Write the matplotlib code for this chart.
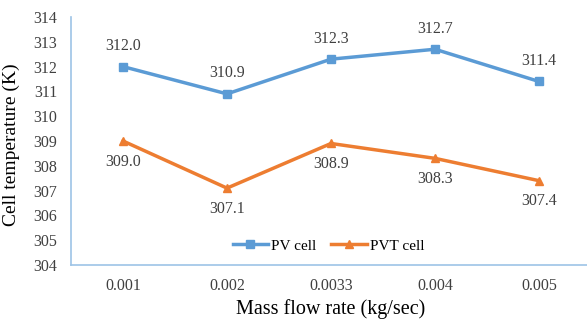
import matplotlib
matplotlib.use("Agg")
import matplotlib.pyplot as plt

categories = ["0.001", "0.002", "0.0033", "0.004", "0.005"]
pv_cell = [312.0, 310.9, 312.3, 312.7, 311.4]
pvt_cell = [309.0, 307.1, 308.9, 308.3, 307.4]
y_ticks = list(range(304, 315))

plt.rcParams['font.family'] = ['Liberation Serif', 'DejaVu Serif']

blue = '#5B9BD5'
orange = '#ED7D31'
spine_c = '#9DC3E6'
txt_c = '#404040'

fig = plt.figure(figsize=(5.87, 3.2), dpi=100)
ax = fig.add_axes([71/587, 1-265/320, 520/587, (265-17)/320])

x = list(range(len(categories)))
ax.plot(x, pv_cell, color=blue, lw=2.5, marker='s', ms=6, label='PV cell')
ax.plot(x, pvt_cell, color=orange, lw=2.5, marker='^', ms=6, label='PVT cell')

for xi, v in zip(x, pv_cell):
    ax.annotate(f"{v:.1f}", (xi, v), xytext=(0, 9), textcoords='offset points',
                ha='center', va='bottom', fontsize=11.5, color=txt_c)
for xi, v in zip(x, pvt_cell):
    ax.annotate(f"{v:.1f}", (xi, v), xytext=(0, -9), textcoords='offset points',
                ha='center', va='top', fontsize=11.5, color=txt_c)

ax.set_xlim(-0.5, 4.5)
ax.set_ylim(304, 314)
ax.set_xticks(x)
ax.set_xticklabels(categories)
ax.set_yticks(y_ticks)
ax.tick_params(axis='both', length=0, labelsize=11.5, colors=txt_c)
ax.tick_params(axis='y', pad=10)
ax.tick_params(axis='x', pad=9)

for s in ['top', 'right']:
    ax.spines[s].set_visible(False)
ax.spines['left'].set_color(spine_c)
ax.spines['bottom'].set_color(spine_c)
ax.spines['left'].set_linewidth(1.2)
ax.spines['bottom'].set_linewidth(1.2)

ax.set_ylabel("Cell temperature (K)", fontsize=14)
ax.yaxis.set_label_coords(-0.098, 0.484)
ax.set_xlabel("Mass flow rate (kg/sec)", fontsize=14.5, labelpad=4)

leg = ax.legend(loc='lower center', bbox_to_anchor=(0.495, 0.0), ncol=2, frameon=False,
                fontsize=11, handlelength=2.3, columnspacing=1.0, handletextpad=0.2,
                borderaxespad=0.4)
fig.savefig("out.png", dpi=100)
